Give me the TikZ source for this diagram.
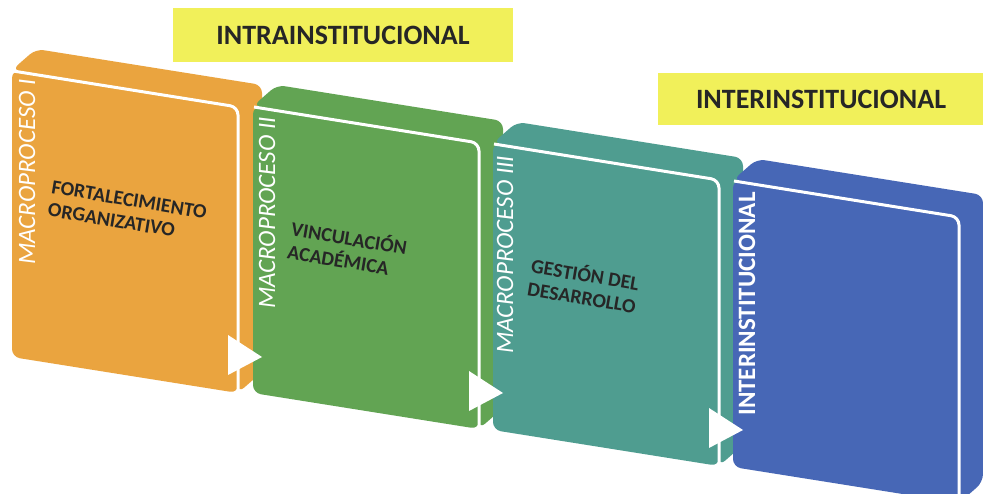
\documentclass[tikz,border=0pt]{standalone}
\usepackage{fontspec}
\setmainfont{Carlito}
\definecolor{corange}{HTML}{EAA43F}
\definecolor{cgreen}{HTML}{62A453}
\definecolor{cteal}{HTML}{4F9D90}
\definecolor{cblue}{HTML}{4767B6}
\definecolor{cyellow}{HTML}{F1F05A}
\newcommand\slab[3]{%
  \fill[#3, rounded corners=8] (#1,#2) -- ++(24,-21) -- ++(226,36) -- ++(0,287) -- ++(-24,21) -- ++(0,-287) -- cycle;
  \fill[#3, rounded corners=8] (#1,#2) -- ++(226,36) -- ++(0,287) -- ++(-226,-36) -- cycle;
  \draw[white, line width=3, rounded corners=8] (#1,#2) ++(1,1) -- ++(225,36) -- ++(0,289);
}
\newcommand\tri[2]{%
  \fill[white] (#1,#2) ++(216,265) -- ++(0,40) -- ++(34,-18) -- cycle;
}
\begin{document}
\begin{tikzpicture}[x=1pt,y=-1pt,
  mac/.style={rotate=90, text=white, inner sep=0, font=\itshape\fontsize{25}{25}\selectfont},
  cont/.style={rotate=-9.5, anchor=north west, align=left, inner sep=0, text=black!85, font=\bfseries\fontsize{20}{23}\selectfont},
  ylab/.style={fill=cyellow, text=black!85, inner sep=0, font=\bfseries\fontsize{28}{28}\selectfont}]
\useasboundingbox[fill=white] (0,0) rectangle (983,494);
\slab{12}{70}{corange}
\slab{253}{106}{cgreen}
\slab{493}{143}{cteal}
\slab{733}{180}{cblue}
\tri{12}{70}
\tri{253}{106}
\tri{493}{143}
\node[ylab, minimum width=340pt, minimum height=54pt] (intra) at (343,35) {INTRAINSTITUCIONAL};
\node[ylab, minimum width=326pt, minimum height=52pt] (inter) at (821,99) {INTERINSTITUCIONAL};
\node[mac] (m1) at (27,172) {MACROPROCESO I};
\node[mac] (m2) at (267,213) {MACROPROCESO II};
\node[mac] (m3) at (505,255) {MACROPROCESO III};
\node[mac, font=\bfseries\fontsize{25}{25}\selectfont] (m4) at (747,304) {INTERINSTITUCIONAL};
\node[cont] (c1) at (53,180) {FORTALECIMIENTO\\ORGANIZATIVO};
\node[cont] (c2) at (293,219) {VINCULACIÓN\\ACADÉMICA};
\node[cont] (c3) at (533,256) {GESTIÓN DEL\\DESARROLLO};
\end{tikzpicture}
\end{document}
